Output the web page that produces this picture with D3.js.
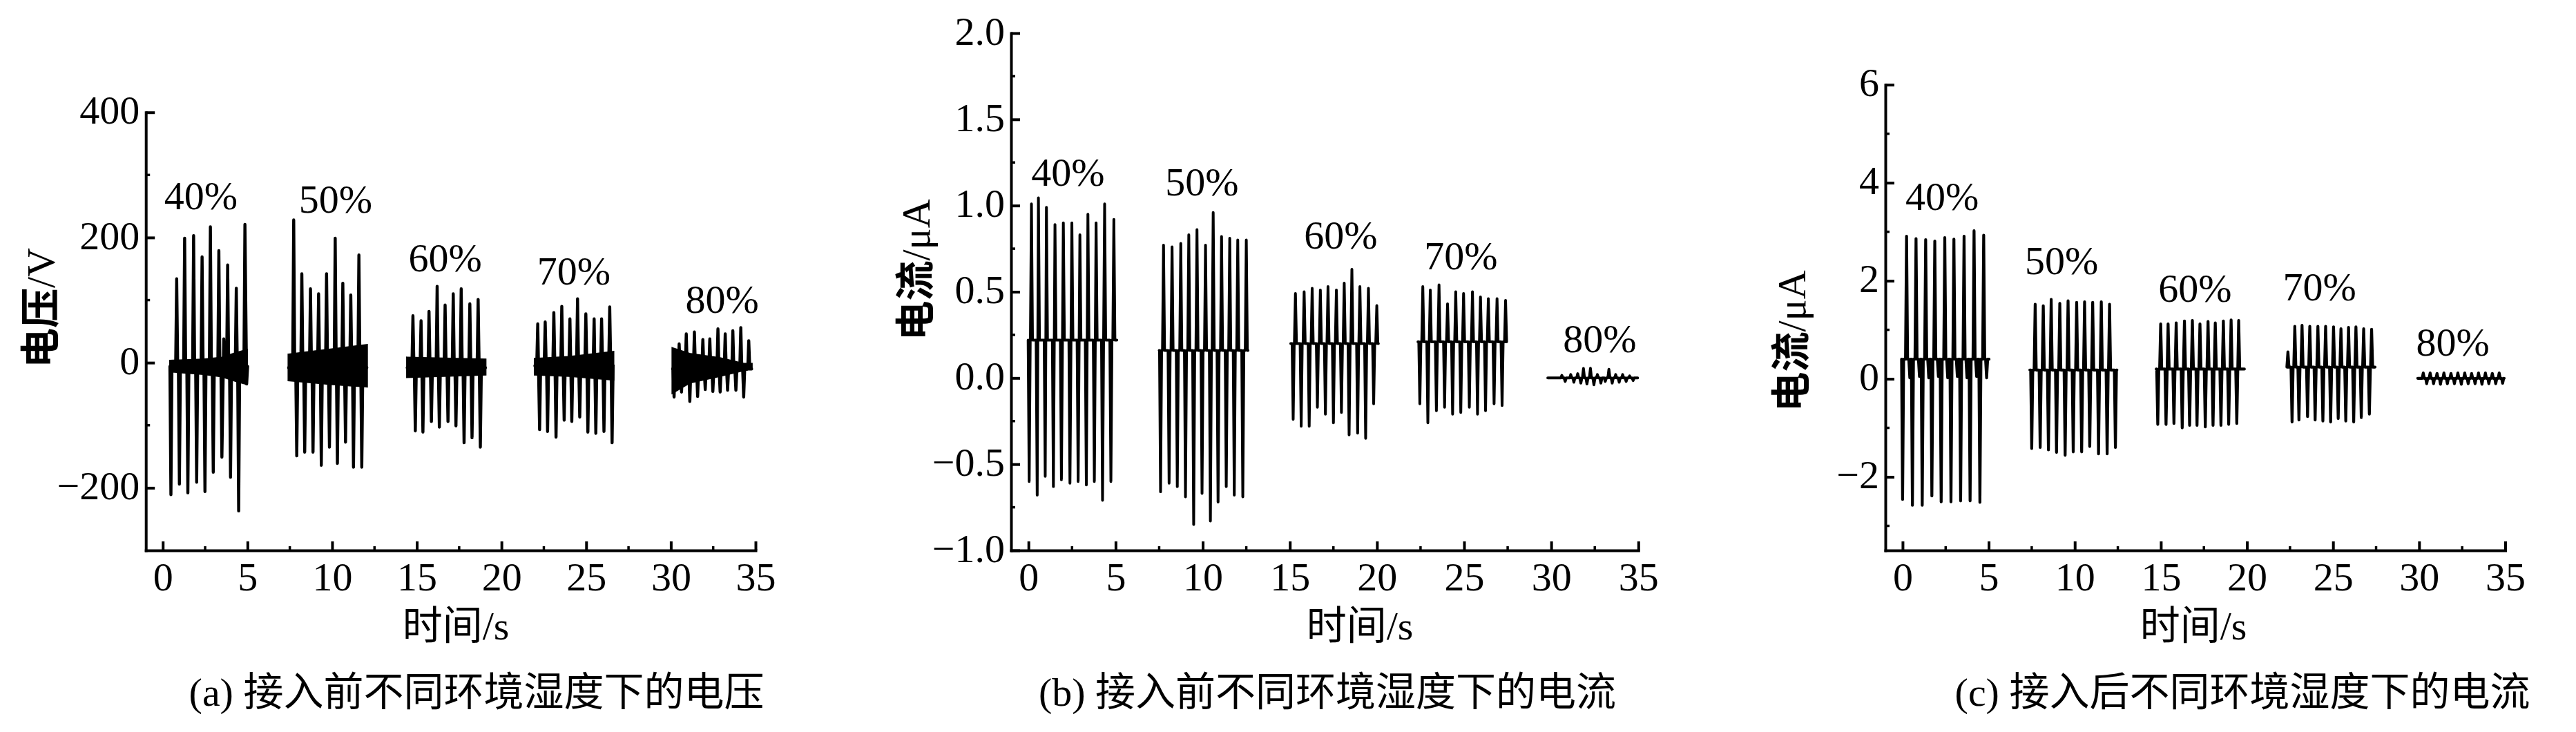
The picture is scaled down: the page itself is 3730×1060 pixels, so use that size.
<!DOCTYPE html>
<html><head><meta charset="utf-8">
<script src="https://cdn.jsdelivr.net/npm/d3@7"></script>
<style>
html,body{margin:0;padding:0;background:#fff;}
svg{display:block;}
text{font-family:"Liberation Serif","Noto Sans CJK SC",serif;fill:#000;}
</style></head><body>
<svg id="chart" width="3730" height="1060"></svg>
<script>
// ---------- shared ----------
const timeTicks = [0,5,10,15,20,25,30,35];
const timeMinorTicks = [2.5,7.5,12.5,17.5,22.5,27.5,32.5];
const humidityLabels = ["40%","50%","60%","70%","80%"];

// ---------- (a) voltage before connection ----------
const voltTicks = [-200,0,200,400];
const voltMinorTicks = [-100,100,300];
const voltSpan = [[0.44,4.97],[7.43,12.05],[14.43,19.05],[21.97,26.6],[30.1,34.77]];
const voltBase = [-6,-8,-8,-5,-10];
const voltBand = [
  [[0.44,-14,3],[2.4,-18,5],[3.5,-22,8],[4.4,-30,16],[4.97,-34,20]],
  [[7.43,-28,13],[9.9,-34,21],[12.05,-38,28]],
  [[14.43,-23,8],[19.05,-19,5]],
  [[21.97,-19,6],[24.0,-21,9],[26.6,-27,17]],
  [[30.1,-48,23],[31.1,-32,14],[32.9,-21,7],[34.3,-12,-2],[34.77,-10,-2]]
];
const voltPeaks = [
  [[0.48,-211],[0.82,134],[0.98,-194],[1.29,199],[1.48,-208],[1.82,203],[2.0,-191],[2.32,169],[2.49,-206],[2.81,217],[2.98,-175],[3.31,179],[3.49,-151],[3.6,38],[3.83,156],[4.0,-183],[4.34,119],[4.48,-237],[4.85,221],[4.95,-34]],
  [[7.73,228],[7.91,-149],[8.21,142],[8.38,-143],[8.72,118],[8.87,-143],[9.2,110],[9.36,-164],[9.67,142],[9.84,-135],[10.18,199],[10.31,-161],[10.63,127],[10.79,-127],[11.1,108],[11.26,-167],[11.58,172],[11.75,-167]],
  [[14.77,75],[14.91,-109],[15.25,67],[15.36,-111],[15.72,82],[15.86,-94],[16.2,122],[16.33,-103],[16.67,92],[16.84,-94],[17.15,110],[17.31,-101],[17.62,118],[17.79,-128],[18.13,94],[18.26,-120],[18.62,101],[18.75,-135]],
  [[22.14,62],[22.25,-107],[22.58,65],[22.72,-110],[23.09,80],[23.22,-119],[23.56,90],[23.7,-92],[24.04,70],[24.15,-94],[24.49,102],[24.62,-87],[24.98,78],[25.1,-111],[25.47,70],[25.57,-113],[25.91,70],[26.05,-110],[26.39,89],[26.53,-128]],
  [[30.19,-55],[30.49,30],[30.63,-47],[30.91,46],[31.12,-62],[31.39,49],[31.58,-54],[31.89,37],[32.03,-43],[32.3,38],[32.48,-46],[32.78,54],[32.91,-47],[33.21,46],[33.35,-44],[33.66,51],[33.84,-44],[34.13,56],[34.3,-55],[34.6,35]]
];
const voltLabelAt = [[0.08,245],[8.03,240],[14.51,146],[22.1,125],[30.86,80]];

// ---------- (b) current before connection ----------
const currBTicks = [-1.0,-0.5,0.0,0.5,1.0,1.5,2.0];
const currBMinorTicks = [-0.75,-0.25,0.25,0.75,1.25,1.75];
const currBSpan = [[0.0,5.07],[7.5,12.6],[15.05,20.08],[22.35,27.42],[29.8,34.96]];
const currBBase = [0.22,0.16,0.2,0.21,0.0];
const currBPeaks = [
  [[0.04,-0.60],[0.17,1.01],[0.5,-0.68],[0.57,1.045],[0.96,-0.57],[1.03,0.99],[1.43,-0.63],[1.52,0.89],[1.89,-0.59],[2.0,0.90],[2.38,-0.61],[2.49,0.90],[2.85,-0.60],[2.95,0.83],[3.32,-0.62],[3.41,0.95],[3.78,-0.60],[3.88,0.90],[4.25,-0.71],[4.37,1.01],[4.73,-0.60],[4.9,0.92]],
  [[7.58,-0.66],[7.75,0.77],[8.07,-0.61],[8.24,0.76],[8.54,-0.63],[8.74,0.78],[9.01,-0.69],[9.2,0.83],[9.48,-0.85],[9.67,0.86],[9.96,-0.67],[10.16,0.77],[10.44,-0.83],[10.6,0.96],[10.88,-0.72],[11.08,0.82],[11.35,-0.63],[11.55,0.81],[11.81,-0.68],[12.01,0.80],[12.3,-0.69],[12.5,0.80]],
  [[15.19,-0.24],[15.32,0.49],[15.65,-0.28],[15.82,0.50],[16.11,-0.28],[16.28,0.52],[16.58,-0.17],[16.75,0.51],[17.04,-0.21],[17.19,0.53],[17.5,-0.26],[17.67,0.51],[17.96,-0.20],[18.12,0.55],[18.4,-0.33],[18.56,0.63],[18.89,-0.32],[19.02,0.53],[19.35,-0.35],[19.51,0.52],[19.81,-0.15],[19.99,0.42]],
  [[22.46,-0.15],[22.63,0.53],[22.92,-0.26],[23.06,0.51],[23.41,-0.19],[23.56,0.54],[23.88,-0.17],[24.05,0.43],[24.34,-0.21],[24.52,0.50],[24.81,-0.20],[24.97,0.49],[25.3,-0.17],[25.48,0.50],[25.77,-0.21],[25.94,0.47],[26.23,-0.19],[26.39,0.46],[26.72,-0.15],[26.89,0.46],[27.18,-0.16],[27.38,0.45]],
  [[30.61,0.015],[30.8,-0.02],[31.12,0.02],[31.3,-0.025],[31.52,0.025],[31.7,-0.03],[31.85,0.055],[32.05,-0.035],[32.25,0.056],[32.45,-0.04],[32.65,0.02],[32.85,-0.03],[33.1,-0.02],[33.31,0.05],[33.5,-0.03],[33.7,0.02],[33.9,-0.025],[34.1,0.02],[34.3,-0.02],[34.5,0.012],[34.7,-0.015]]
];
const currBLabelAt = [[0.16,1.115],[7.85,1.06],[15.81,0.75],[22.71,0.63],[30.68,0.15]];

// ---------- (c) current after connection ----------
const currCTicks = [-2,0,2,4,6];
const currCMinorTicks = [-3,-1,1,3,5];
const currCSpan = [[-0.05,5.02],[7.39,12.45],[14.73,19.85],[22.35,27.44],[29.92,34.94]];
const currCBase = [0.4,0.18,0.2,0.24,0.01];
const currCPeaks = [
  [[0.0,-2.46],[0.23,2.91],[0.42,0.02],[0.57,-2.58],[0.78,2.86],[0.98,0.05],[1.14,-2.58],[1.34,2.84],[1.52,0.02],[1.7,-2.39],[1.87,2.81],[2.08,0.05],[2.24,-2.51],[2.45,2.88],[2.62,0.02],[2.81,-2.51],[2.98,2.85],[3.18,0.05],[3.37,-2.49],[3.57,2.91],[3.74,0.02],[3.92,-2.49],[4.15,3.02],[4.3,0.05],[4.49,-2.52],[4.71,2.93],[4.88,0.02]],
  [[7.5,-1.42],[7.7,1.52],[7.99,-1.40],[8.17,1.49],[8.47,-1.45],[8.63,1.62],[8.94,-1.50],[9.13,1.54],[9.44,-1.56],[9.61,1.59],[9.91,-1.49],[10.11,1.56],[10.4,-1.49],[10.57,1.57],[10.87,-1.38],[11.04,1.56],[11.38,-1.53],[11.54,1.57],[11.88,-1.53],[12.02,1.52],[12.36,-1.40]],
  [[14.82,-0.93],[14.99,1.12],[15.3,-0.93],[15.42,1.12],[15.76,-0.91],[15.89,1.14],[16.24,-1.0],[16.37,1.18],[16.67,-0.95],[16.83,1.19],[17.1,-0.95],[17.27,1.12],[17.58,-0.98],[17.74,1.17],[18.03,-0.95],[18.16,1.14],[18.49,-0.95],[18.63,1.18],[18.94,-0.93],[19.08,1.20],[19.41,-0.91],[19.52,1.19]],
  [[22.38,0.55],[22.62,-0.88],[22.78,1.07],[23.02,-0.84],[23.2,1.09],[23.52,-0.77],[23.65,1.07],[23.96,-0.84],[24.12,1.07],[24.41,-0.86],[24.57,1.07],[24.86,-0.88],[25.03,1.06],[25.3,-0.81],[25.46,1.02],[25.74,-0.86],[25.9,1.05],[26.2,-0.88],[26.33,1.06],[26.64,-0.79],[26.78,1.02],[27.11,-0.72],[27.24,1.01]],
  [[30.24,0.12],[30.44,-0.1],[30.64,0.12],[30.84,-0.1],[31.04,0.11],[31.24,-0.11],[31.44,0.12],[31.64,-0.1],[31.85,0.11],[32.05,-0.1],[32.25,0.12],[32.45,-0.11],[32.65,0.12],[32.85,-0.1],[33.05,0.11],[33.25,-0.1],[33.45,0.12],[33.65,-0.11],[33.85,0.12],[34.05,-0.1],[34.25,0.11],[34.45,-0.1],[34.65,0.12],[34.85,-0.09]]
];
const currCLabelAt = [[0.16,3.45],[7.1,2.14],[14.85,1.57],[22.08,1.6],[29.83,0.47]];

// ---------- texts ----------
const yTitlesCJK = ["电压","电流","电流"];
const yTitlesUnit = ["/V","/μA","/μA"];
const xTitle = "时间/s";
const captions = ["(a) 接入前不同环境湿度下的电压","(b) 接入前不同环境湿度下的电流","(c) 接入后不同环境湿度下的电流"];

// ---------- layout ----------
const FS = 58;
const panels = [
  {xr:[211.2,1094], yd:[-300,400], yr:[797,162.7], ticks:voltTicks, minor:voltMinorTicks, fmt:d3.format("d"),
   spans:voltSpan, base:voltBase, peaks:voltPeaks, bands:voltBand, labels:voltLabelAt,
   yTitle:[59,446], xTitleX:660, capX:690, sw:4.4},
  {xr:[1464,2372.3], yd:[-1,2], yr:[797,48], ticks:currBTicks, minor:currBMinorTicks, fmt:d3.format(".1f"),
   spans:currBSpan, base:currBBase, peaks:currBPeaks, bands:null, labels:currBLabelAt,
   yTitle:[1326,391], xTitleX:1969, capX:1922, sw:4.0},
  {xr:[2730,3627.5], yd:[-3.5,6], yr:[797,122.7], ticks:currCTicks, minor:currCMinorTicks, fmt:d3.format("d"),
   spans:currCSpan, base:currCBase, peaks:currCPeaks, bands:null, labels:currCLabelAt,
   yTitle:[2594,494], xTitleX:3176, capX:3247, sw:4.2}
];

const svg = d3.select("#chart");

function burstPoints(peaks, base, span, d) {
  const pk = peaks.slice().sort((a,b)=>a[0]-b[0]);
  const pts = [[span[0], base]];
  pk.forEach((p,i) => {
    const prev = pk[i-1], next = pk[i+1];
    if (!prev || p[0]-prev[0] > 2*d) pts.push([p[0]-d, base]);
    pts.push(p);
    if (!next || next[0]-p[0] > 2*d) pts.push([p[0]+d, base]);
  });
  pts.push([span[1], base]);
  return pts;
}

panels.forEach((P, pi) => {
  const g = svg.append("g");
  const x = d3.scaleLinear().domain([-1,35]).range(P.xr);
  const y = d3.scaleLinear().domain(P.yd).range(P.yr);
  const yb = P.yr[0];

  if (P.bands) {
    const area = d3.area().x(d=>x(d[0])).y0(d=>y(d[1])).y1(d=>y(d[2]));
    P.bands.forEach(b => {
      g.append("path").attr("d", area(b)).attr("fill","#000").attr("stroke","#000").attr("stroke-width",3);
    });
  }
  const line = d3.line().x(d=>x(d[0])).y(d=>y(d[1]));
  P.peaks.forEach((pk, i) => {
    g.append("path").attr("d", line(burstPoints(pk, P.base[i], P.spans[i], 0.06)))
      .attr("fill","none").attr("stroke","#000").attr("stroke-width",P.sw)
      .attr("stroke-linejoin","round").attr("stroke-linecap","round");
  });

  // x axis
  const gx = g.append("g").attr("transform",`translate(0,${yb})`)
    .call(d3.axisBottom(x).tickValues(timeTicks).tickSizeInner(-13).tickSizeOuter(0).tickPadding(17).tickFormat(d3.format("d")));
  gx.attr("font-size",null).attr("font-family",null);
  gx.select(".domain").attr("stroke","#000").attr("stroke-width",4).attr("stroke-linecap","square");
  gx.selectAll(".tick line").attr("stroke","#000").attr("stroke-width",4);
  gx.selectAll(".tick text").attr("font-size",FS).attr("fill","#000");
  gx.selectAll(".minor").data(timeMinorTicks).enter().append("line")
    .attr("x1",d=>x(d)).attr("x2",d=>x(d)).attr("y1",0).attr("y2",-6)
    .attr("stroke","#000").attr("stroke-width",3.5);

  // y axis
  const gy = g.append("g").attr("transform",`translate(${P.xr[0]},0)`)
    .call(d3.axisLeft(y).tickValues(P.ticks).tickSizeInner(-13).tickSizeOuter(0).tickPadding(9).tickFormat(P.fmt));
  gy.attr("font-size",null).attr("font-family",null);
  gy.select(".domain").attr("stroke","#000").attr("stroke-width",4).attr("stroke-linecap","square");
  gy.selectAll(".tick line").attr("stroke","#000").attr("stroke-width",4);
  gy.selectAll(".tick text").attr("font-size",FS).attr("fill","#000").attr("dy","0.28em");
  gy.selectAll(".minor").data(P.minor).enter().append("line")
    .attr("y1",d=>y(d)).attr("y2",d=>y(d)).attr("x1",0).attr("x2",6)
    .attr("stroke","#000").attr("stroke-width",3.5);

  // humidity labels
  g.selectAll(".hum").data(P.labels).enter().append("text")
    .attr("x",d=>x(d[0])).attr("y",d=>y(d[1])).attr("font-size",FS)
    .text((d,i)=>humidityLabels[i]);

  // axis titles
  const yt = g.append("text").attr("transform",`translate(${P.yTitle[0]},${P.yTitle[1]}) rotate(-90)`)
    .attr("text-anchor","middle").attr("dominant-baseline","central").attr("font-size",FS);
  yt.append("tspan").attr("font-weight",700).text(yTitlesCJK[pi]);
  yt.append("tspan").text(yTitlesUnit[pi]);
  g.append("text").attr("x",P.xTitleX).attr("y",926).attr("text-anchor","middle").attr("font-size",FS).text(xTitle);
  g.append("text").attr("x",P.capX).attr("y",1022).attr("text-anchor","middle").attr("font-size",FS).text(captions[pi]);
});
</script>
</body></html>
